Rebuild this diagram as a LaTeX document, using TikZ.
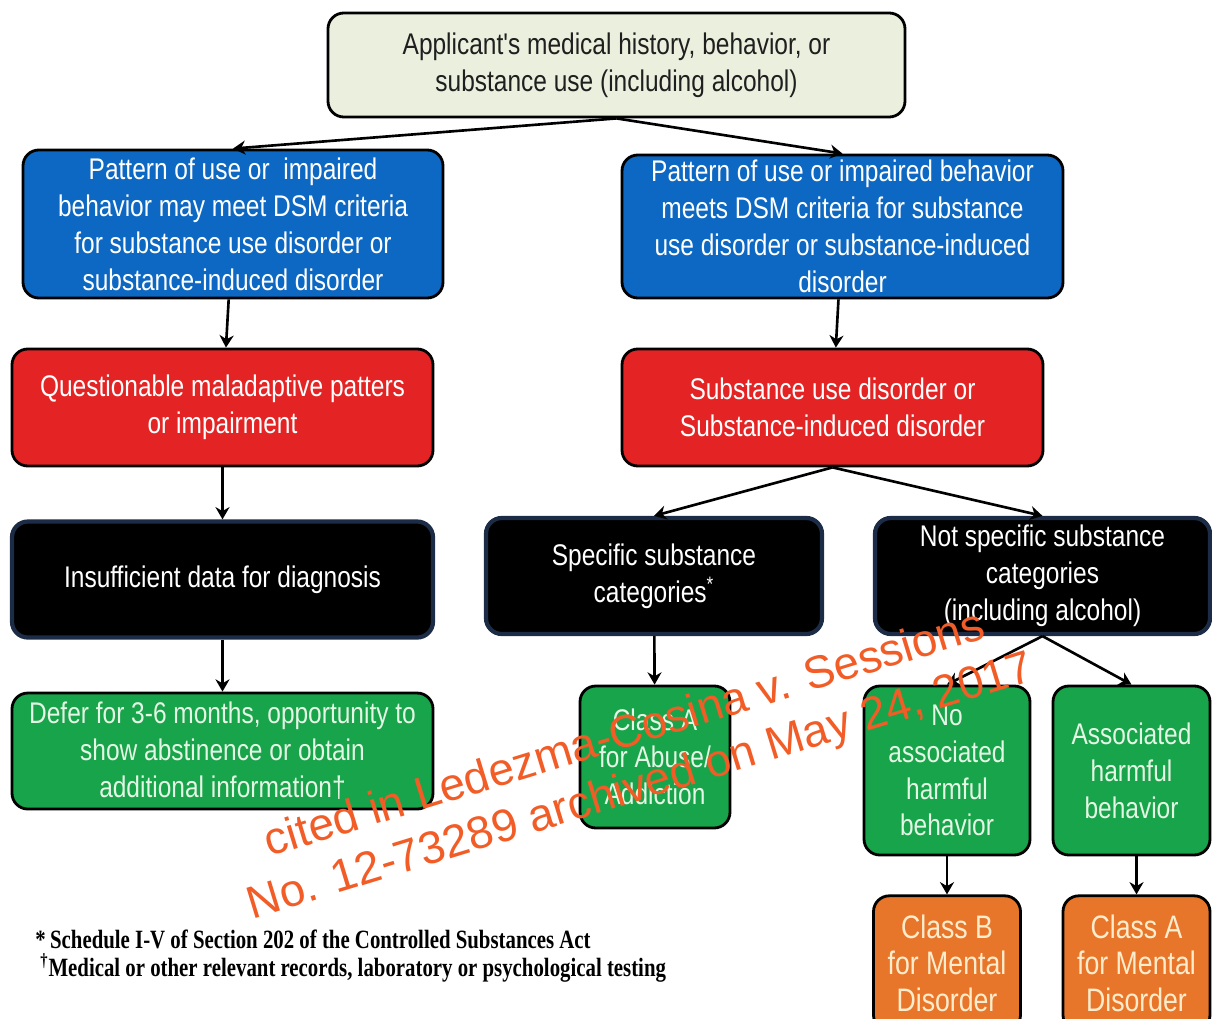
\documentclass[tikz,border=0pt]{standalone}
\usepackage{fontspec}
\setmainfont{Liberation Sans}
\newfontfamily\boxfont[FakeStretch=0.82]{Liberation Sans}
\newfontfamily\notefont[FakeStretch=0.79]{Liberation Serif}
\usetikzlibrary{positioning,arrows.meta}

\definecolor{startfill}{RGB}{235,240,222}
\definecolor{dsmblue}{RGB}{12,104,194}
\definecolor{disorderred}{RGB}{228,36,36}
\definecolor{databorder}{RGB}{28,44,70}
\definecolor{resultgreen}{RGB}{24,164,74}
\definecolor{resulttext}{RGB}{228,246,228}
\definecolor{classorange}{RGB}{232,118,42}
\definecolor{classtext}{RGB}{255,236,204}
\definecolor{stampred}{RGB}{242,92,38}

\tikzset{
    base box/.style = {
        draw = black,
        line width = 1.6pt,
        rounded corners = 9pt,
        align = center,
        inner sep = 0pt,
        font = \boxfont\fontsize{17}{21}\selectfont,
        },
    start box/.style = {
        base box,
        fill = startfill,
        text = black!88,
        },
    dsm box/.style = {
        base box,
        fill = dsmblue,
        text = white,
        },
    disorder box/.style = {
        base box,
        fill = disorderred,
        text = white,
        },
    data box/.style = {
        base box,
        draw = databorder,
        line width = 2.4pt,
        fill = black,
        text = white,
        },
    result box/.style = {
        base box,
        fill = resultgreen,
        text = resulttext,
        },
    class box/.style = {
        base box,
        fill = classorange,
        text = classtext,
        font = \boxfont\fontsize{18.5}{21}\selectfont,
        },
    flow edge/.style = {
        draw = black,
        line width = 1.5pt,
        -{Stealth[length=7pt,width=8pt]},
        },
    note/.style = {
        inner sep = 0pt,
        font = \notefont\bfseries\fontsize{15}{16}\selectfont,
        },
    stamp/.style = {
        align = center,
        inner sep = 0pt,
        text = stampred,
        font = \fontsize{26}{31}\selectfont,
        },
}

\begin{document}
\begin{tikzpicture}
            \useasboundingbox (0,0) rectangle (24.24,-20.38);

            \node[start box, minimum width=11.54cm, minimum height=2.08cm] (apl) at (12.33,-1.30)
                {Applicant's medical history, behavior, or\\substance use (including alcohol)};
            \node[dsm box, minimum width=8.4cm, minimum height=2.96cm] (may) at (4.66,-4.48)
                {Pattern of use or\ \ impaired\\behavior may meet DSM criteria\\for substance use disorder or\\substance-induced disorder};
            \node[dsm box, minimum width=8.82cm, minimum height=2.86cm] (meets) at (16.85,-4.53)
                {Pattern of use or impaired behavior\\meets DSM criteria for substance\\use disorder or substance-induced\\disorder};
            \node[disorder box, minimum width=8.42cm, minimum height=2.34cm] (quest) at (4.45,-8.15)
                {Questionable maladaptive patters\\or impairment};
            \node[disorder box, minimum width=8.42cm, minimum height=2.34cm] (sud) at (16.65,-8.15)
                {Substance use disorder or\\Substance-induced disorder};
            \node[data box, minimum width=8.42cm, minimum height=2.32cm, below=1.04cm of quest] (insuf)
                {Insufficient data for diagnosis};
            \node[data box, minimum width=6.72cm, minimum height=2.32cm] (spec) at (13.08,-11.52)
                {Specific substance\\categories\textsuperscript{*}};
            \node[data box, minimum width=6.7cm, minimum height=2.32cm] (nspec) at (20.85,-11.52)
                {Not specific substance\\categories\\(including alcohol)};
            \node[result box, minimum width=8.42cm, minimum height=2.32cm, below=1.04cm of insuf] (defer)
                {Defer for 3-6 months, opportunity to\\show abstinence or obtain\\additional information\textdagger};
            \node[result box, minimum width=3.0cm, minimum height=2.84cm] (abuse) at (13.10,-15.14)
                {Class A\\for Abuse/\\Addiction};
            \node[result box, minimum width=3.32cm, minimum height=3.38cm] (noharm) at (18.94,-15.41)
                {No\\associated\\harmful\\behavior};
            \node[result box, minimum width=3.14cm, minimum height=3.38cm] (harm) at (22.63,-15.41)
                {Associated\\harmful\\behavior};
            \node[class box, minimum width=2.94cm, minimum height=2.7cm, below=0.76cm of noharm] (classB)
                {Class B\\for Mental\\Disorder};
            \node[class box, minimum width=2.94cm, minimum height=2.7cm, below=0.76cm of harm, xshift=0.1cm] (classA)
                {Class A\\for Mental\\Disorder};

            \path (apl.south) edge[flow edge] (may.north);
            \path (apl.south) edge[flow edge] (meets.north);
            \path (may) edge[flow edge] (quest);
            \path (meets) edge[flow edge] (sud);
            \path (quest) edge[flow edge] (insuf);
            \path (sud.south) edge[flow edge] (spec.north);
            \path (sud.south) edge[flow edge] (nspec.north);
            \path (insuf) edge[flow edge] (defer);
            \path (spec) edge[flow edge] (abuse);
            \path (nspec.south) edge[flow edge] (noharm.north);
            \path (nspec.south) edge[flow edge] (harm.north);
            \path (noharm.south) edge[flow edge] (classB.north);
            \path (harm.south -| classA.north) edge[flow edge] (classA.north);

            % footnotes
            \node[note, anchor=base west] (noteA) at (0.7,-18.96)
                {*\,Schedule I-V of Section 202 of the Controlled Substances Act};
            \node[note, anchor=base west] (noteB) at (0.8,-19.52)
                {\textsuperscript{\textdagger}Medical or other relevant records, laboratory or psychological testing};

            % archive stamp
            \node[stamp, rotate=17] (stamp) at (12.66,-15.24)
                {cited in Ledezma-Cosina v. Sessions\\No. 12-73289 archived on May 24, 2017};
        \end{tikzpicture}
\end{document}
